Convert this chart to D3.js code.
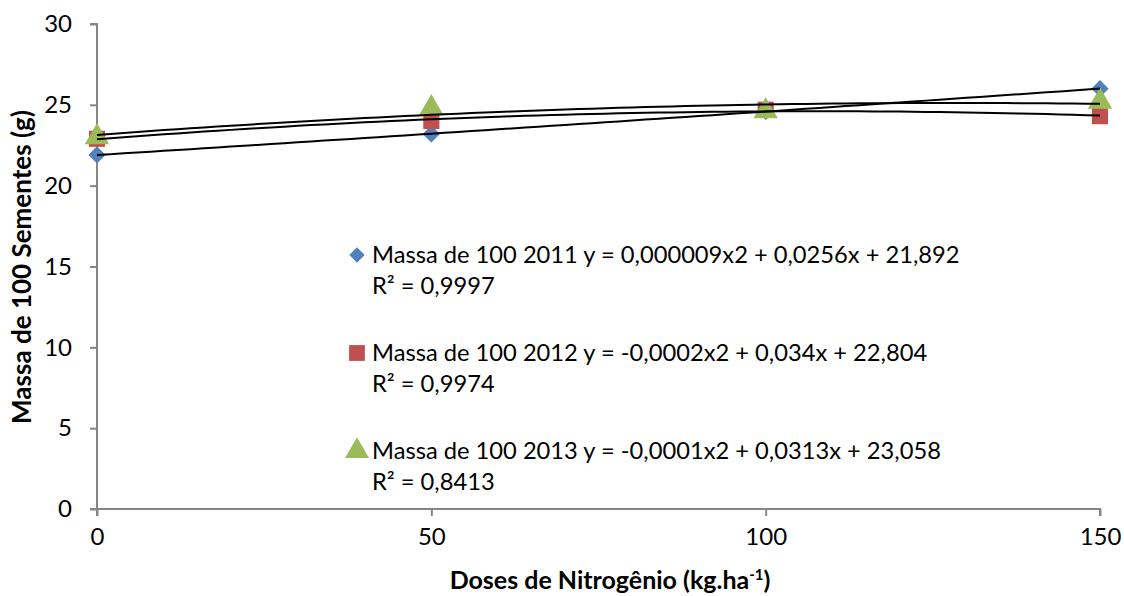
<!DOCTYPE html>
<html>
<head>
<meta charset="utf-8">
<script src="https://cdn.jsdelivr.net/npm/d3@7"></script>
<style>
    body { margin: 0; background: #fff; }
    text { font-family: Lato, "Open Sans", sans-serif; fill: #000; }
</style>
</head>
<body>
<div id="chart"></div>
<script>
// dados
const doses = [0, 50, 100, 150];
const massa2011 = [21.9, 23.2, 24.6, 26.0];
const massa2012 = [22.9, 24.0, 24.7, 24.3];
const massa2013 = [23.0, 24.8, 24.6, 25.2];
const yTicks = [0, 5, 10, 15, 20, 25, 30];
const seriesNames = ['Massa de 100 2011', 'Massa de 100 2012', 'Massa de 100 2013'];
const equations = [
    'y = 0,000009x2 + 0,0256x + 21,892',
    'y = -0,0002x2 + 0,034x + 22,804',
    'y = -0,0001x2 + 0,0313x + 23,058',
];
const rSquared = ['R² = 0,9997', 'R² = 0,9974', 'R² = 0,8413'];
const colors = ['#4F81BD', '#C0504D', '#9BBB59'];
const symbols = [d3.symbolDiamond2, d3.symbolSquare, d3.symbolTriangle];

const width = 1124;
const height = 596;
const margin = {top: 24, right: 24, bottom: 87, left: 97};

const svg = d3.select('#chart')
    .append('svg')
    .attr('width', width)
    .attr('height', height);

const x = d3.scaleLinear()
    .domain([0, 150])
    .range([margin.left, width - margin.right]);

const y = d3.scaleLinear()
    .domain([0, 30])
    .range([height - margin.bottom, margin.top]);

const axisColor = '#868686';

// eixo y
const yAxis = svg.append('g')
    .attr('transform', 'translate(' + margin.left + ',0)')
    .call(d3.axisLeft(y).tickValues(yTicks).tickSize(7).tickPadding(18));
yAxis.selectAll('text').style('font-size', '24px');

// eixo x
const xAxis = svg.append('g')
    .attr('transform', 'translate(0,' + y(0) + ')')
    .call(d3.axisBottom(x).tickValues(doses).tickSize(7).tickPadding(12));
xAxis.selectAll('text').style('font-size', '24px');

svg.selectAll('.domain, .tick line')
    .attr('stroke', axisColor)
    .attr('stroke-width', 2);
// x domain stretches left to meet the y tick
xAxis.select('.domain').attr('d', 'M' + (margin.left - 7) + ',0H' + x(150) + 'V7');
yAxis.select('.domain').attr('d', 'M-7,' + y(30) + 'H0V' + (y(0) + 7));

// fit polinomial de 2a ordem (linha de tendência)
function polyFit(xs, ys) {
    const n = xs.length;
    let s = [0, 0, 0, 0, 0];
    let t = [0, 0, 0];
    for (let i = 0; i < n; i++) {
        for (let k = 0; k < 5; k++) s[k] += Math.pow(xs[i], k);
        for (let k = 0; k < 3; k++) t[k] += ys[i] * Math.pow(xs[i], k);
    }
    const m = [
        [s[0], s[1], s[2], t[0]],
        [s[1], s[2], s[3], t[1]],
        [s[2], s[3], s[4], t[2]],
    ];
    for (let i = 0; i < 3; i++) {
        for (let j = i + 1; j < 3; j++) {
            const f = m[j][i] / m[i][i];
            for (let k = i; k < 4; k++) m[j][k] -= f * m[i][k];
        }
    }
    const c = [0, 0, 0];
    for (let i = 2; i >= 0; i--) {
        let v = m[i][3];
        for (let k = i + 1; k < 3; k++) v -= m[i][k] * c[k];
        c[i] = v / m[i][i];
    }
    return c;
}

const allSeries = [massa2011, massa2012, massa2013];

allSeries.forEach((vals, si) => {
    svg.append('g')
        .selectAll('path')
        .data(vals)
        .enter()
        .append('path')
        .attr('d', d3.symbol().type(symbols[si]).size(si === 0 ? 190 : 260))
        .attr('transform', (d, i) => 'translate(' + x(doses[i]) + ',' + y(d) + ')')
        .attr('fill', colors[si]);
});

const line = d3.line()
    .x((d) => x(d[0]))
    .y((d) => y(d[1]));

allSeries.forEach((vals) => {
    const c = polyFit(doses, vals);
    const pts = d3.range(0, 150.5, 2).map((v) => [v, c[0] + c[1] * v + c[2] * v * v]);
    svg.append('path')
        .datum(pts)
        .attr('d', line)
        .attr('fill', 'none')
        .attr('stroke', '#000')
        .attr('stroke-width', 2);
});

// legenda
const legendY = [263, 361, 459];
const legend = svg.append('g');
seriesNames.forEach((name, i) => {
    legend.append('path')
        .attr('d', d3.symbol().type(symbols[i]).size(i === 0 ? 150 : 250))
        .attr('transform', 'translate(357,' + (legendY[i] - 8) + ')')
        .attr('fill', colors[i]);
    legend.append('text')
        .attr('x', 372)
        .attr('y', legendY[i])
        .style('font-size', '23.7px')
        .text(name + ' ' + equations[i]);
    legend.append('text')
        .attr('x', 372)
        .attr('y', legendY[i] + 31)
        .style('font-size', '23.7px')
        .text(rSquared[i]);
});

// títulos dos eixos
const xTitle = svg.append('text')
    .attr('x', 610)
    .attr('y', 589)
    .attr('text-anchor', 'middle')
    .style('font-size', '25px')
    .style('font-weight', 'bold')
    .text('Doses de Nitrogênio (kg.ha');
xTitle.append('tspan')
    .attr('dy', -9)
    .style('font-size', '15px')
    .text('-1');
xTitle.append('tspan')
    .attr('dy', 9)
    .text(')');

svg.append('text')
    .attr('transform', 'translate(31,' + 267 + ') rotate(-90)')
    .attr('text-anchor', 'middle')
    .style('font-size', '26px')
    .style('font-weight', 'bold')
    .text('Massa de 100 Sementes (g)');
</script>
</body>
</html>
